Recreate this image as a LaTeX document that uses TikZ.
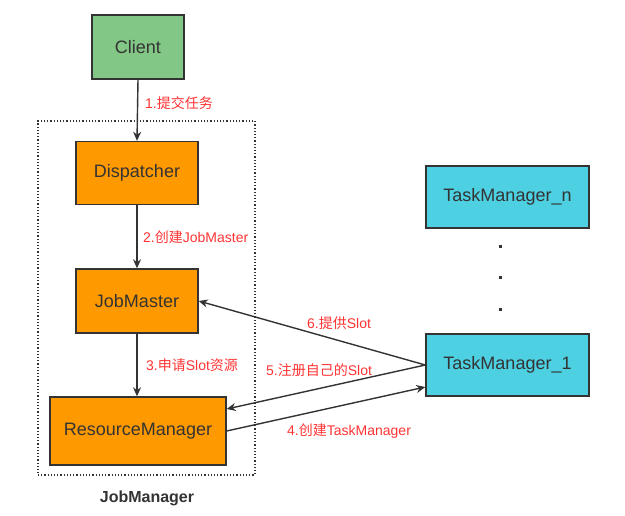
\documentclass[tikz,border=0pt]{standalone}
\usepackage{fontspec}
\setmainfont{Liberation Sans}
\newfontfamily\cjk{Noto Sans CJK SC}
\usetikzlibrary{arrows.meta,calc}
\definecolor{cgreen}{RGB}{130,199,133}
\definecolor{corange}{RGB}{255,153,0}
\definecolor{ccyan}{RGB}{77,208,225}
\definecolor{cline}{RGB}{51,51,51}
\definecolor{cred}{RGB}{255,51,51}
\newcommand{\zh}[1]{{\cjk #1}}
\begin{document}
\begin{tikzpicture}[x=1pt,y=1pt,
  box/.style={draw=cline,line width=1.4pt,text=cline,inner sep=0pt,font=\fontsize{18}{21}\selectfont},
  gbox/.style={box,fill=cgreen},
  obox/.style={box,fill=corange},
  cbox/.style={box,fill=ccyan},
  conn/.style={draw=cline,line width=1.4pt,-{Stealth[length=9pt,width=8pt]}},
  lbl/.style={text=cred,font=\fontsize{14}{16}\selectfont,inner sep=0pt},
  dotc/.style={fill=cline,inner sep=0pt,minimum size=3pt}]
\useasboundingbox (0,0) rectangle (625,-516);
\node[draw=cline,line width=1.2pt,dotted,minimum width=217pt,minimum height=354pt,inner sep=0pt] (frame) at (146.5,-298) {};
\node[font=\bfseries\fontsize{16}{18}\selectfont,text=cline] (jm) at (147,-498) {JobManager};
\node[gbox,minimum width=92pt,minimum height=64pt] (client) at (138,-47) {Client};
\node[obox,minimum width=122pt,minimum height=63pt] (disp) at (137,-173) {Dispatcher};
\node[obox,minimum width=122pt,minimum height=64pt] (jmaster) at (137,-301) {JobMaster};
\node[obox,minimum width=176pt,minimum height=68pt] (rm) at (138,-431) {ResourceManager};
\node[cbox,minimum width=163pt,minimum height=62pt] (tmn) at (507.5,-197) {TaskManager\_n};
\node[cbox,minimum width=163pt,minimum height=62pt] (tm1) at (507.5,-365) {TaskManager\_1};
\node[dotc] (d1) at (500,-247) {};
\node[dotc] (d2) at (500,-278) {};
\node[dotc] (d3) at (500,-310) {};
\coordinate (rmin) at ($(rm.east)+(0,22)$);
\coordinate (tmin) at ($(tm1.west)+(0,-22)$);
\draw[conn] (client.south) -- (disp.north);
\draw[conn] (disp.south) -- (jmaster.north);
\draw[conn] (jmaster.south) -- (jmaster.south |- rm.north);
\draw[conn] (tm1.west) -- (jmaster.east);
\draw[conn] (tm1.west) -- (rmin);
\draw[conn] (rm.east) -- (tmin);
\node[lbl,anchor=west] (l1) at (145,-103) {1.\zh{提交任务}};
\node[lbl,anchor=west] (l2) at (143,-237) {2.\zh{创建}JobMaster};
\node[lbl,anchor=west] (l3) at (146,-365) {3.\zh{申请}Slot\zh{资源}};
\node[lbl,anchor=west] (l6) at (307,-323) {6.\zh{提供}Slot};
\node[lbl,anchor=west] (l5) at (266,-370) {5.\zh{注册自己的}Slot};
\node[lbl,anchor=west] (l4) at (287,-431) {4.\zh{创建}TaskManager};
\end{tikzpicture}
\end{document}
